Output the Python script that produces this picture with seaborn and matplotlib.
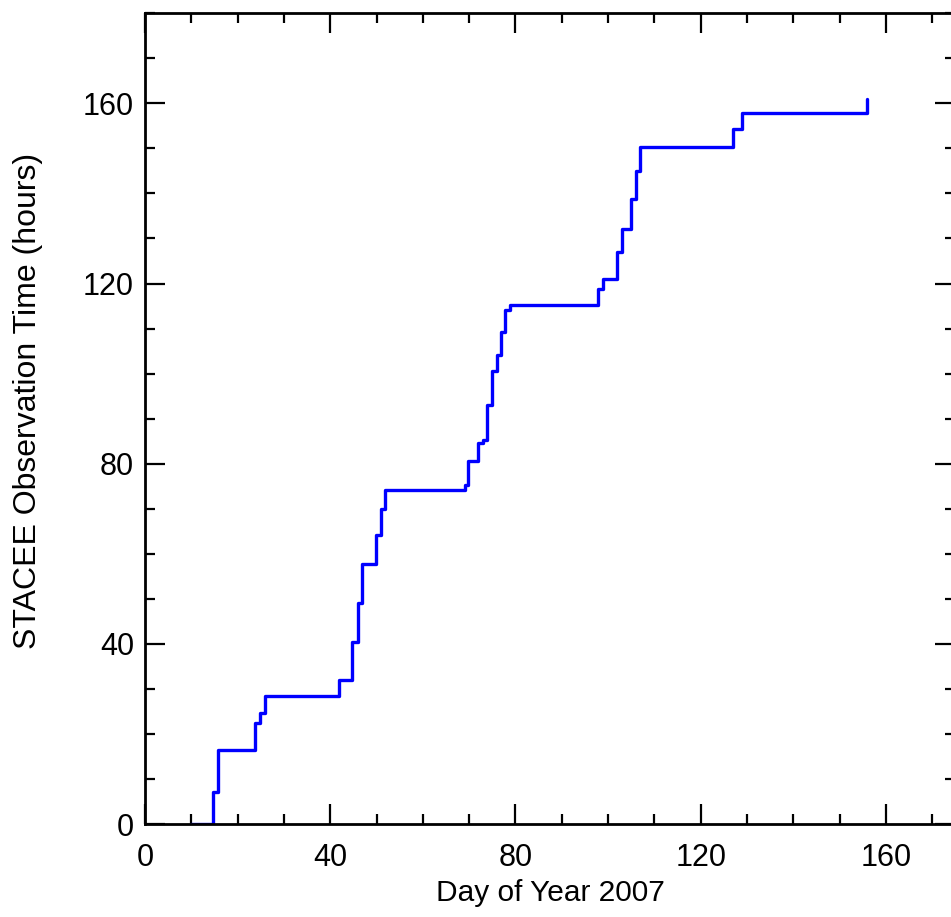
import matplotlib
matplotlib.use("Agg")
import matplotlib.pyplot as plt
import seaborn as sns
import pandas as pd
from matplotlib.ticker import MultipleLocator

# Cumulative STACEE observation time (step curve, value after each step)
days = [10, 14.7, 15.8, 23.8, 24.8, 25.9, 41.9, 44.8, 45.9, 46.9, 49.9, 50.9,
        51.9, 69.0, 69.8, 72.0, 72.9, 73.8, 74.9, 76.0, 76.9, 77.8, 78.8,
        97.9, 98.9, 102.0, 102.9, 104.9, 106.0, 106.9, 126.9, 129.0, 155.9]
hours = [0, 7.2, 16.4, 22.5, 24.6, 28.5, 32.0, 40.4, 49.0, 57.8, 64.2, 69.9,
         74.2, 75.2, 80.7, 84.6, 85.3, 93.1, 100.5, 104.2, 109.3, 114.2, 115.3,
         118.7, 121.1, 127.0, 132.0, 138.7, 145.0, 150.3, 154.4, 157.9, 160.9]
x_ticks = [0, 40, 80, 120, 160]
y_ticks = [0, 40, 80, 120, 160]

sns.set_style("white", rc={"text.color": "black", "axes.labelcolor": "black",
                           "xtick.color": "black", "ytick.color": "black",
                           "axes.edgecolor": "black"})
plt.rcParams['font.family'] = ['Liberation Sans', 'DejaVu Sans']

df = pd.DataFrame({"day": days, "hours": hours})

fig = plt.figure(figsize=(9.51, 9.17), dpi=100)
ax = fig.add_axes([145 / 951, 93 / 917, 810.4 / 951, 810.7 / 917])

sns.lineplot(data=df, x="day", y="hours", ax=ax, color="#0000ff",
             linewidth=2.4, drawstyle="steps-post", estimator=None, sort=True)

ax.set_xlim(0, 175)
ax.set_ylim(0, 180)
ax.set_xticks(x_ticks)
ax.set_yticks(y_ticks)
ax.set_xticklabels([str(t) for t in x_ticks])
ax.set_yticklabels([str(t) for t in y_ticks])
ax.xaxis.set_minor_locator(MultipleLocator(10))
ax.yaxis.set_minor_locator(MultipleLocator(10))

for s in ax.spines.values():
    s.set_visible(True)
    s.set_linewidth(2.0)
    s.set_color("black")

ax.tick_params(which="both", direction="in", top=True, right=True,
               bottom=True, left=True, color="black", labelcolor="black")
ax.tick_params(which="major", length=14.5, width=1.6, labelsize=22)
ax.tick_params(which="minor", length=7.2, width=1.6)
ax.tick_params(axis="x", which="major", pad=14)
ax.tick_params(axis="y", which="major", pad=8)

ax.set_xlabel("Day of Year 2007", fontsize=21.5, labelpad=4, color="black")
ax.set_ylabel("STACEE Observation Time (hours)", fontsize=23, color="black")
ax.yaxis.set_label_coords(-0.1259, 0.522)

fig.savefig("out.png", dpi=100)
